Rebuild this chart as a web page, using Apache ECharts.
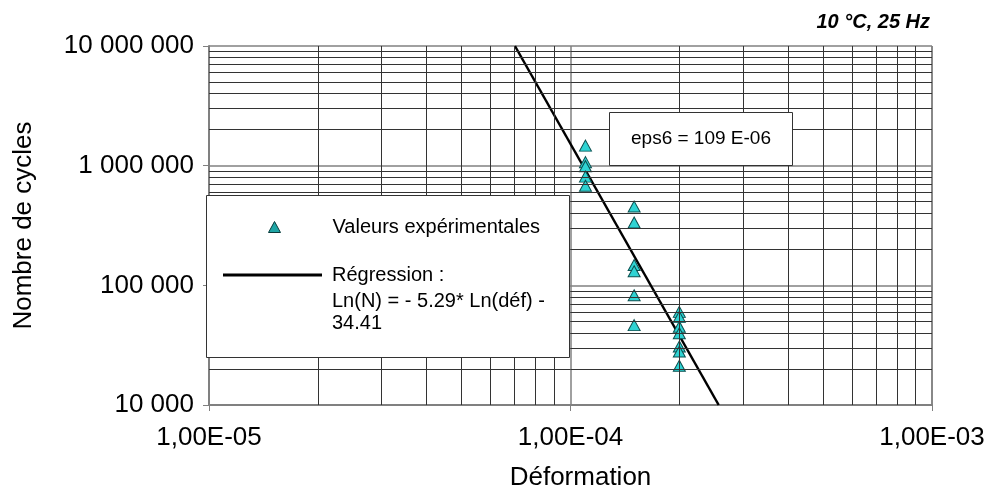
<!DOCTYPE html>
<html>
<head>
<meta charset="utf-8">
<script src="https://cdn.jsdelivr.net/npm/echarts@6/dist/echarts.min.js"></script>
<style>html,body{margin:0;padding:0;background:#fff}#c{width:989px;height:497px}</style>
</head>
<body>
<div id="c"></div>
<script>
// ---- data ----
const xTickValues = [1e-5, 1e-4, 1e-3];
const xTickLabels = ['1,00E-05', '1,00E-04', '1,00E-03'];
const yTickValues = [1e4, 1e5, 1e6, 1e7];
const yTickLabels = ['10 000', '100 000', '1 000 000', '10 000 000'];
const xMinorGrid = [2e-5,3e-5,4e-5,5e-5,6e-5,7e-5,8e-5,9e-5,2e-4,3e-4,4e-4,5e-4,6e-4,7e-4,8e-4,9e-4];
const yMinorGrid = [2e4,3e4,4e4,5e4,6e4,7e4,8e4,9e4,2e5,3e5,4e5,5e5,6e5,7e5,8e5,9e5,2e6,3e6,4e6,5e6,6e6,7e6,8e6,9e6];
const expX = [1.1e-4,1.1e-4,1.1e-4,1.1e-4,1.1e-4,
              1.5e-4,1.5e-4,1.5e-4,1.5e-4,1.5e-4,1.5e-4,
              2.0e-4,2.0e-4,2.0e-4,2.0e-4,2.0e-4,2.0e-4,2.0e-4];
const expY = [1.47e6,1.07e6,9.9e5,8.1e5,6.8e5,
              4.55e5,3.35e5,1.48e5,1.31e5,8.25e4,4.65e4,
              6.0e4,5.45e4,4.5e4,3.98e4,3.08e4,2.8e4,2.13e4];
const regX = [7.02e-5, 2.57e-4];
const regY = [1e7, 1e4];
const expName = 'Valeurs expérimentales';
const regName = 'Régression :';
const regEquation = 'Ln(N) = - 5.29* Ln(déf) -\n34.41';
const chartTitle = '10 °C, 25 Hz';
const epsText = 'eps6 = 109 E-06';
const xName = 'Déformation';
const yName = 'Nombre de cycles';

// ---- chart ----
const FONT = "'Liberation Sans', Arial, sans-serif";
function labelFor(values, labels) {
  return function (v) {
    for (let i = 0; i < values.length; i++) {
      if (Math.abs(Math.log10(v) - Math.log10(values[i])) < 1e-6) return labels[i];
    }
    return '';
  };
}
const X0 = xTickValues[0], X1 = xTickValues[xTickValues.length - 1];
const Y0 = yTickValues[0], Y1 = yTickValues[yTickValues.length - 1];
const gridLines = xMinorGrid.map(v => [{coord: [v, Y0]}, {coord: [v, Y1]}])
  .concat(yMinorGrid.map(v => [{coord: [X0, v]}, {coord: [X1, v]}]));

const chart = echarts.init(document.getElementById('c'), null, {renderer: 'canvas'});
chart.setOption({
  animation: false,
  backgroundColor: '#fff',
  textStyle: {fontFamily: FONT},
  title: [
    {text: chartTitle, right: 59, top: 12, padding: 0, z: 60,
     textStyle: {fontFamily: FONT, fontSize: 20, fontWeight: 'bold', fontStyle: 'italic', color: '#000'}},
    {text: epsText, left: 609, top: 112, padding: [15, 22, 15, 22], z: 60,
     backgroundColor: '#fff', borderColor: '#333', borderWidth: 1,
     textStyle: {fontFamily: FONT, fontSize: 19, fontWeight: 'normal', color: '#000', lineHeight: 24}},
    {text: regEquation, left: 332, top: 290, padding: 0, z: 60,
     textStyle: {fontFamily: FONT, fontSize: 20, fontWeight: 'normal', color: '#000', lineHeight: 22}}
  ],
  graphic: {
    elements: [{
      type: 'rect', z: 50, left: 206, top: 195, silent: true,
      shape: {width: 363, height: 162},
      style: {fill: '#fff', stroke: '#333', lineWidth: 1}
    }]
  },
  grid: {left: 209, right: 57, top: 46, bottom: 92, containLabel: false, outerBoundsMode: 'none'},
  legend: [
    {
      orient: 'vertical', left: 268, top: 217, padding: 0, z: 60,
      selectedMode: false, itemWidth: 12, itemHeight: 11,
      textStyle: {fontFamily: FONT, fontSize: 20, color: '#000', padding: [0, 0, 0, 47]},
      data: [{name: expName, icon: 'triangle',
              itemStyle: {color: '#1fa5a5', borderColor: '#0a3a3a', borderWidth: 1}}]
    },
    {
      orient: 'vertical', left: 223, top: 265, padding: 0, z: 60,
      selectedMode: false, itemWidth: 99, itemHeight: 3,
      textStyle: {fontFamily: FONT, fontSize: 20, color: '#000', padding: [0, 0, 0, 5]},
      data: [{name: regName, icon: 'rect', itemStyle: {color: '#000', borderWidth: 0}}]
    }
  ],
  xAxis: {
    type: 'log', logBase: 10, min: X0, max: X1,
    name: xName, nameLocation: 'middle', nameGap: 60, nameMoveOverlap: false,
    nameTextStyle: {fontFamily: FONT, fontSize: 26, color: '#000', padding: [0, 0, 0, 20]},
    axisLine: {show: true, lineStyle: {color: '#808080', width: 2}},
    axisTick: {show: true, length: 6, inside: false, lineStyle: {color: '#808080', width: 1}},
    axisLabel: {fontFamily: FONT, fontSize: 26, color: '#000', margin: 20,
                formatter: labelFor(xTickValues, xTickLabels)},
    splitLine: {show: true, lineStyle: {color: '#808080', width: 1.5}}
  },
  yAxis: {
    type: 'log', logBase: 10, min: Y0, max: Y1,
    name: yName, nameLocation: 'middle', nameGap: 172, nameRotate: 90, nameMoveOverlap: false,
    nameTextStyle: {fontFamily: FONT, fontSize: 26, color: '#000'},
    axisLine: {show: true, lineStyle: {color: '#808080', width: 2}},
    axisTick: {show: true, length: 6, inside: false, lineStyle: {color: '#808080', width: 1}},
    axisLabel: {fontFamily: FONT, fontSize: 26, color: '#000', margin: 15,
                formatter: labelFor(yTickValues, yTickLabels)},
    splitLine: {show: true, lineStyle: {color: '#808080', width: 1.5}}
  },
  series: [
    {
      name: 'grille', type: 'line', data: [], silent: true, z: 1,
      markLine: {
        silent: true, symbol: ['none', 'none'], animation: false,
        label: {show: false}, emphasis: {disabled: true},
        lineStyle: {color: '#333', width: 1, type: 'solid'},
        data: gridLines
      }
    },
    {
      name: regName, type: 'line', z: 3,
      data: regX.map((x, i) => [x, regY[i]]),
      symbol: 'none', showSymbol: false,
      lineStyle: {color: '#000', width: 2.5},
      itemStyle: {color: '#000'},
      emphasis: {disabled: true}
    },
    {
      name: expName, type: 'scatter', z: 4,
      data: expX.map((x, i) => [x, expY[i]]),
      symbol: 'triangle', symbolSize: [12, 11],
      itemStyle: {color: '#2fd3d3', borderColor: '#0b4f4f', borderWidth: 1, opacity: 1},
      emphasis: {disabled: true}
    }
  ]
});
</script>
</body>
</html>
